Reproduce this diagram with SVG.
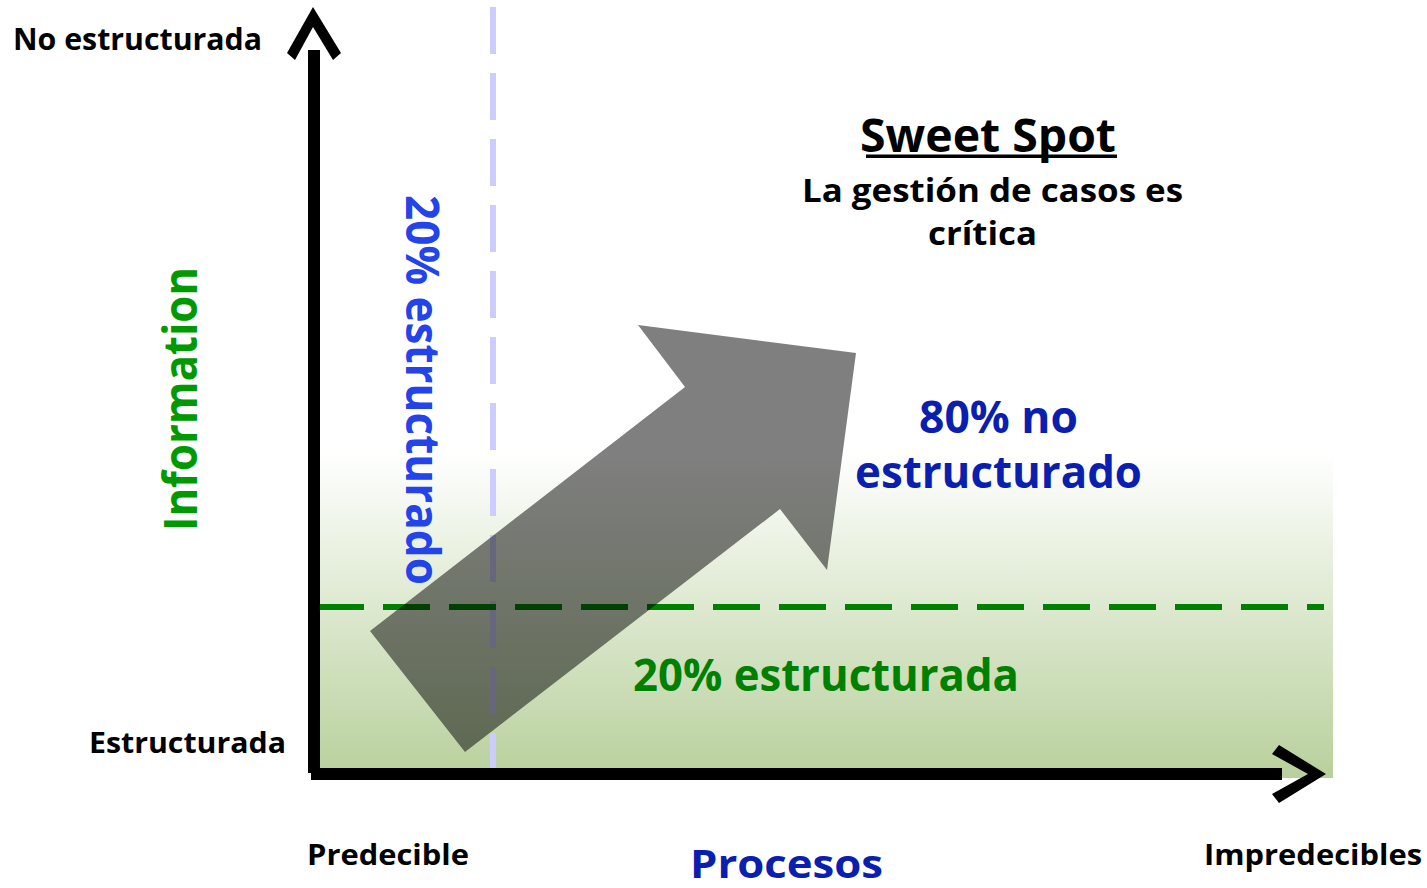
<svg xmlns="http://www.w3.org/2000/svg" width="1427" height="888" viewBox="0 0 1427 888">
<defs>
<linearGradient id="bg" x1="0" y1="0" x2="0" y2="1">
<stop offset="0" stop-color="#ffffff"/>
<stop offset="1" stop-color="#b8d09c"/>
</linearGradient>
<style>
text{font-family:"Open Sans","Liberation Sans",sans-serif;font-weight:700}
.blk{fill:#000}
.dblue{fill:#0a1eaf}
.green{fill:#008000}
</style>
</defs>
<rect width="1427" height="888" fill="#fff"/>
<rect id="zone" x="312" y="452" width="1021" height="326" fill="url(#bg)"/>
<g id="connectors">
<line x1="493" y1="7" x2="493" y2="772" stroke="#ccccff" stroke-width="6" stroke-dasharray="47 19"/>
<line x1="317" y1="607" x2="1324" y2="607" stroke="#008000" stroke-width="6" stroke-dasharray="47 19"/>
<polygon id="bigArrow" points="370,631 685,387 638,325 856,353 827,570 780,509 465,752" fill="#000" fill-opacity="0.5"/>
<rect x="308" y="50" width="12" height="723"/>
<rect x="311" y="768" width="971" height="12"/>
<polygon points="313,7 341,53 333,60 313,27 295,60 287,53"/>
<polygon points="1279,745 1326,774 1279,803 1272,794 1308,774 1272,754"/>
</g>
<g id="axis-y-top"><text class="blk" x="13" y="50" font-size="31" textLength="249" lengthAdjust="spacingAndGlyphs">No estructurada</text></g>
<g id="axis-y-bottom"><text class="blk" x="89" y="753" font-size="29" textLength="197" lengthAdjust="spacingAndGlyphs">Estructurada</text></g>
<g id="axis-y-title"><text transform="translate(197,531) rotate(-90)" fill="#009900" font-size="47" textLength="264" lengthAdjust="spacingAndGlyphs">Information</text></g>
<g id="axis-x-left"><text class="blk" x="307" y="865" font-size="29" textLength="162" lengthAdjust="spacingAndGlyphs">Predecible</text></g>
<g id="axis-x-title"><text class="dblue" x="690" y="878" font-size="40" textLength="193" lengthAdjust="spacingAndGlyphs">Procesos</text></g>
<g id="axis-x-right"><text class="blk" x="1204" y="865" font-size="29" textLength="218" lengthAdjust="spacingAndGlyphs">Impredecibles</text></g>
<g id="sweet-spot">
<text class="blk" x="860" y="152" font-size="46" textLength="256" lengthAdjust="spacingAndGlyphs">Sweet Spot</text>
<rect x="866" y="154.5" width="251" height="3.5"/>
<text class="blk" x="802" y="202" font-size="33" textLength="381" lengthAdjust="spacingAndGlyphs">La gestión de casos es</text>
<text class="blk" x="928" y="245" font-size="33" textLength="109" lengthAdjust="spacingAndGlyphs">crítica</text>
</g>
<g id="unstructured">
<text class="dblue" x="919" y="433" font-size="45" textLength="159" lengthAdjust="spacingAndGlyphs">80% no</text>
<text class="dblue" x="855" y="488" font-size="45" textLength="287" lengthAdjust="spacingAndGlyphs">estructurado</text>
</g>
<g id="structured"><text class="green" x="633" y="691" font-size="45" textLength="386" lengthAdjust="spacingAndGlyphs">20% estructurada</text></g>
<g id="structured-vertical"><text transform="translate(406,195) rotate(90)" fill="#2343eb" font-size="46" textLength="390" lengthAdjust="spacingAndGlyphs">20% estructurado</text></g>
</svg>
